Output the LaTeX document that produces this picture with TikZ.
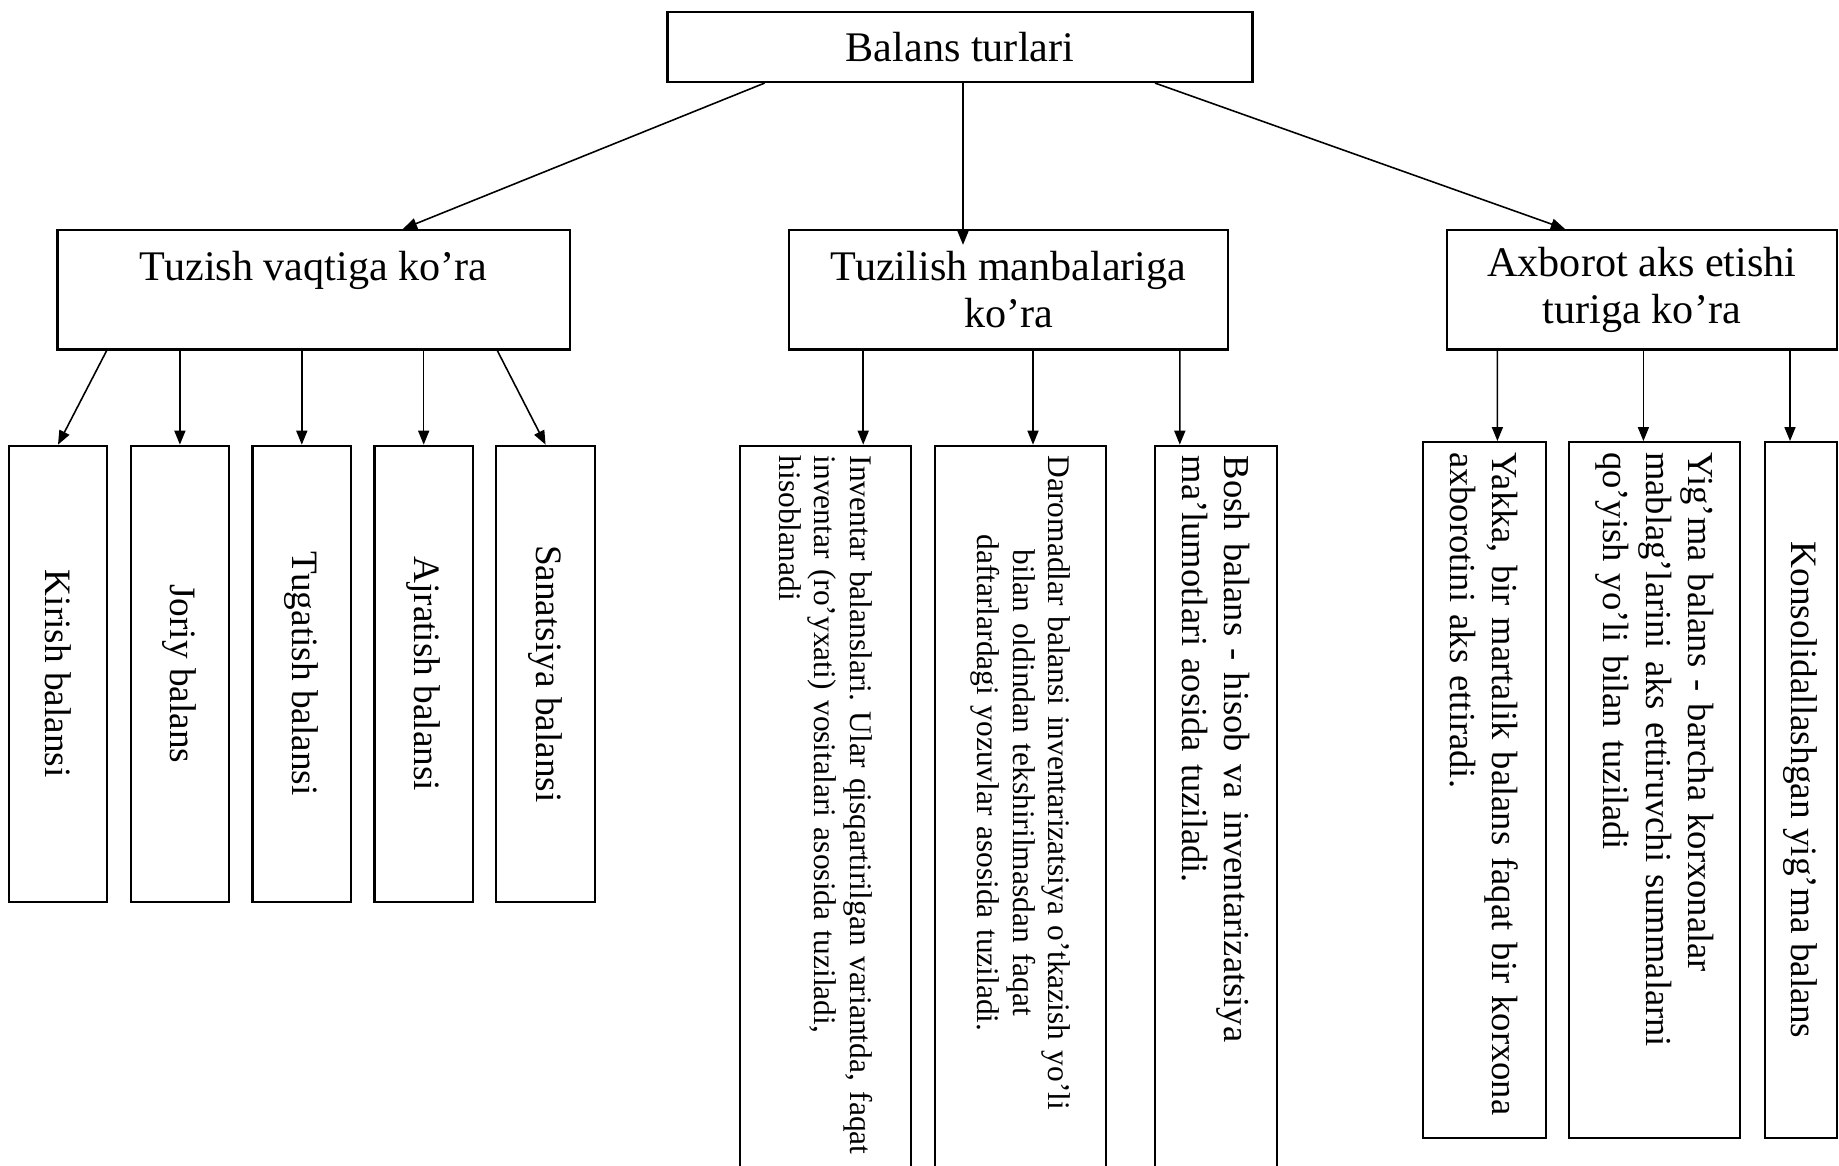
\documentclass[tikz,border=0pt]{standalone}
\usepackage{fontspec}
\setmainfont{Liberation Serif}
\usepackage{tikz}
\usetikzlibrary{arrows.meta, positioning}
\frenchspacing

\begin{document}
\begin{tikzpicture}[
    box/.style={rectangle, draw, line width=0.6pt, align=center,
                font=\fontsize{12}{13.4}\selectfont},
    vbox/.style={rectangle, draw, line width=0.6pt, rotate=-90,
                 inner xsep=0.1cm, inner ysep=0pt, font=\fontsize{10.6}{11.9}\selectfont},
    leftbox/.style={vbox, minimum width=4.562cm, minimum height=0.985cm},
    midbox/.style={vbox, align=left, text width=7.243cm, font=\fontsize{10.4}{11.9}\selectfont},
    smallbox/.style={midbox, font=\fontsize{8.95}{10.1}\selectfont},
    rightbox/.style={vbox, align=left, inner xsep=0.1cm, text width=6.755cm,
                     font=\fontsize{10.4}{12}\selectfont},
    arrow/.style={-{Triangle[length=0.14cm, width=0.11cm]}, line width=0.45pt},
]
\useasboundingbox (0,0) rectangle (18.39,-11.65);

\node[box, minimum width=5.85cm, minimum height=0.70cm] (root) at (9.60,-0.47) {Balans turlari};

\node[box, minimum width=5.125cm, minimum height=1.196cm] (tuzish)  at (3.137,-2.897)  {Tuzish vaqtiga ko’ra\\~};
\node[box, minimum width=4.386cm, minimum height=1.196cm] (manba)   at (10.086,-2.897) {Tuzilish manbalariga\\ko’ra};
\node[box, minimum width=3.894cm, minimum height=1.196cm] (axborot) at (16.419,-2.897) {Axborot aks etishi\\turiga ko’ra};

% rotated boxes: west is the top edge
\node[leftbox] (kirish)    at (0.580,-6.738) {Kirish balansi};
\node[leftbox] (joriy)     at (1.799,-6.738) {Joriy balans};
\node[leftbox] (tugatish)  at (3.018,-6.738) {Tugatish balansi};
\node[leftbox] (ajratish)  at (4.237,-6.738) {Ajratish balansi};
\node[leftbox] (sanatsiya) at (5.456,-6.738) {Sanatsiya balansi};

\node[smallbox, minimum height=1.71cm] (inventar) at (8.257,-8.1785)
    {Inventar balanslari. Ular qisqartirilgan variantda, faqat\\
     inventar (ro’yxati) vositalari asosida tuziladi,\\
     hisoblanadi};
\node[smallbox, minimum height=1.71cm] (daromad) at (10.204,-8.1785)
    {\begin{tabular}{@{}c@{}}Daromadlar balansi inventarizatsiya o’tkazish yo’li\\
     bilan oldindan tekshirilmasdan faqat\\
     daftarlardagi yozuvlar asosida tuziladi.\end{tabular}};
\node[midbox, minimum height=1.22cm] (bosh) at (12.162,-8.1785)
    {Bosh balans - hisob va inventarizatsiya\\
     ma’lumotlari aosida tuziladi.};

\node[rightbox, minimum height=1.23cm] (yakka) at (14.842,-7.8985)
    {\mbox{Yakka, bir martalik balans faqat bir korxona}\\
     axborotini aks ettiradi.};
\node[rightbox, minimum height=1.71cm] (yigma) at (16.548,-7.8985)
    {Yig’ma balans - barcha korxonalar\\
     mablag’larini aks ettiruvchi summalarni\\
     qo’yish yo’li bilan tuziladi};
\node[vbox, minimum width=6.955cm, minimum height=0.72cm] (konsol) at (18.008,-7.8985)
    {Konsolidallashgan yig’ma balans};

\draw[arrow] ([xshift=-1.954cm]root.south) -- ([xshift=0.893cm]tuzish.north);
\draw[arrow] ([xshift=0.03cm]root.south)   -- ([xshift=-0.456cm, yshift=-0.16cm]manba.north);
\draw[arrow] ([xshift=1.95cm]root.south)   -- ([xshift=-0.77cm]axborot.north);

\draw[arrow] ([xshift=-2.07cm]tuzish.south) -- (kirish.west);
\draw[arrow] (tuzish.south -| joriy)        -- (joriy.west);
\draw[arrow] (tuzish.south -| tugatish)     -- (tugatish.west);
\draw[arrow] (tuzish.south -| ajratish)     -- (ajratish.west);
\draw[arrow] ([xshift=1.836cm]tuzish.south) -- (sanatsiya.west);

\draw[arrow] ([xshift=-1.454cm]manba.south) -- ([xshift=0.375cm]inventar.west);
\draw[arrow] ([xshift=0.244cm]manba.south)  -- ([xshift=0.126cm]daromad.west);
\draw[arrow] ([xshift=1.712cm]manba.south)  -- ([xshift=-0.364cm]bosh.west);

\draw[arrow] ([xshift=-1.445cm]axborot.south) -- ([xshift=0.132cm]yakka.west);
\draw[arrow] ([xshift=0.015cm]axborot.south)  -- ([xshift=-0.114cm]yigma.west);
\draw[arrow] ([xshift=1.481cm]axborot.south)  -- ([xshift=-0.108cm]konsol.west);

\end{tikzpicture}
\end{document}
